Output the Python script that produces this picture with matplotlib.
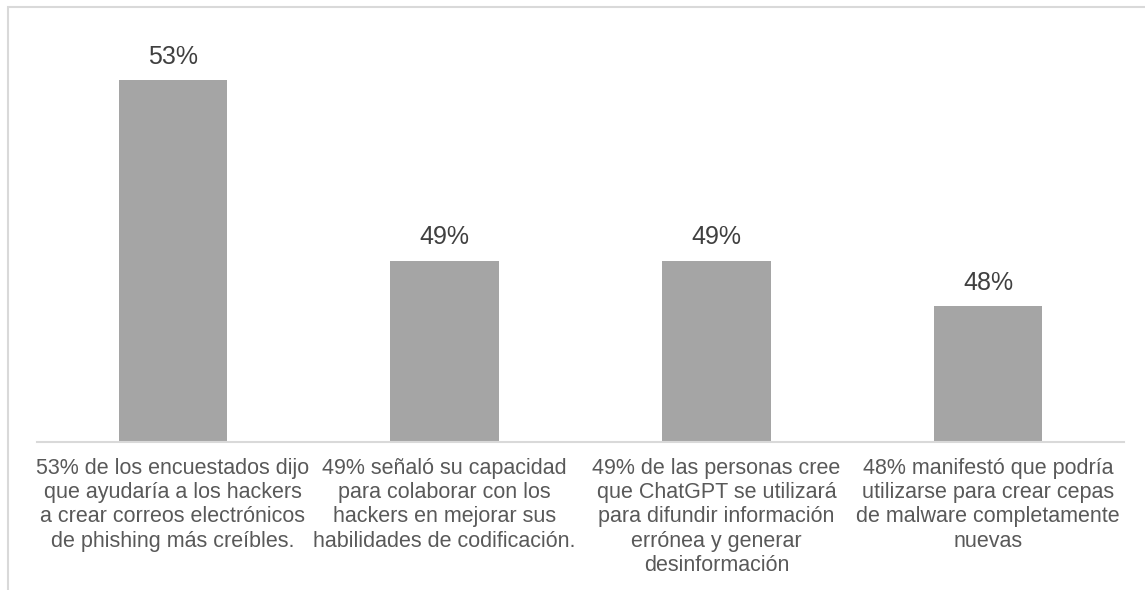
import matplotlib
matplotlib.use("Agg")
import matplotlib.pyplot as plt
from matplotlib.patches import Rectangle

plt.rcParams['font.family'] = ['Liberation Sans', 'DejaVu Sans']

categories = [
    "53% de los encuestados dijo\nque ayudaría a los hackers\na crear correos electrónicos\nde phishing más creíbles.",
    "49% señaló su capacidad\npara colaborar con los\nhackers en mejorar sus\nhabilidades de codificación.",
    "49% de las personas cree\nque ChatGPT se utilizará\npara difundir información\nerrónea y generar\ndesinformación",
    "48% manifestó que podría\nutilizarse para crear cepas\nde malware completamente\nnuevas",
]
values = [53, 49, 49, 48]
value_labels = ["53%", "49%", "49%", "48%"]

W, H = 1145, 590
fig = plt.figure(figsize=(W / 100, H / 100), dpi=100)
fig.patch.set_facecolor("white")

# outer chart frame (partially visible)
fig.add_artist(Rectangle((8 / W, -0.1), 1.2, 1 - 7 / H + 0.1, transform=fig.transFigure,
                         fill=False, edgecolor="#D9D9D9", linewidth=1.5))

ax = fig.add_axes([37 / W, 1 - 442 / H, (1124 - 37) / W, 0.6895])
x = list(range(len(values)))
ax.bar(x, [v - 45 for v in values], bottom=45, width=0.4, color="#A5A5A5")
ax.set_xlim(-0.5, 3.5)
ax.set_ylim(45, 54)

for s in ["top", "right", "left"]:
    ax.spines[s].set_visible(False)
ax.spines["bottom"].set_color("#D9D9D9")
ax.spines["bottom"].set_linewidth(1.5)
ax.set_yticks([])
ax.set_xticks([])

for xi, v, lab in zip(x, values, value_labels):
    ax.annotate(lab, (xi, v), xytext=(0, 8.5), textcoords="offset points",
                ha="center", va="bottom", fontsize=18, color="#404040")

for xi, cat in zip(x, categories):
    ax.annotate(cat, (xi, 45), xytext=(0, -11.5), textcoords="offset points",
                ha="center", va="top", fontsize=15.5, color="#595959",
                linespacing=1.2, annotation_clip=False)

fig.savefig("out.png", dpi=100)
